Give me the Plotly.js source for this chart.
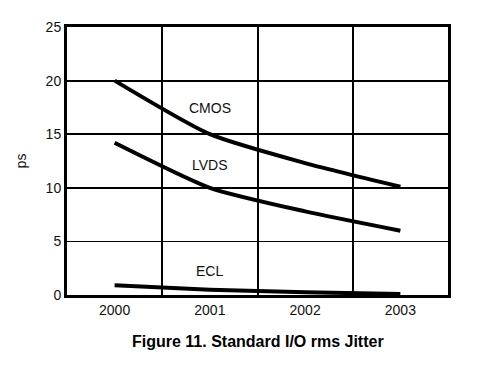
<!DOCTYPE html>
<html><head><meta charset="utf-8">
<script src="https://cdn.plot.ly/plotly-3.0.1.min.js"></script>
<style>html,body{margin:0;padding:0;background:#fff}#chart{width:477px;height:370px}</style>
</head><body><div id="chart"></div>
<script>
const years = ['2000', '2001', '2002', '2003'];
const cmos = [20.0, 15.0, 12.3, 10.1];
const lvds = [14.2, 10.0, 7.8, 6.0];
const ecl = [0.9, 0.5, 0.25, 0.1];
const seriesNames = ['CMOS', 'LVDS', 'ECL'];
const yThickTicks = [0, 10, 15, 20, 25];
const yThinTicks = [5];

const font = {family: 'Liberation Sans, Arial, sans-serif', size: 14, color: '#111'};
const lineStyle = {color: '#000', width: 4, shape: 'spline', smoothing: 0.6};

const traces = [cmos, lvds, ecl].map((vals, i) => ({
  x: years, y: vals, type: 'scatter', mode: 'lines', name: seriesNames[i],
  line: lineStyle, hoverinfo: 'skip', cliponaxis: false,
  yaxis: i === 2 ? 'y2' : 'y'
}));

const labelPos = [17.4, 12.1, 2.25];
const annotations = seriesNames.map((n, i) => ({
  x: 1, y: labelPos[i], xref: 'x', yref: 'y', text: n, showarrow: false,
  font: {family: font.family, size: 14, color: '#111'}
}));
annotations.push({
  x: 0.5, y: -0.172, xref: 'paper', yref: 'paper', yanchor: 'middle',
  text: '<b>Figure 11. Standard I/O rms Jitter</b>', showarrow: false,
  font: {family: font.family, size: 16, color: '#000'}
});

const layout = {
  width: 477, height: 370,
  margin: {l: 67, r: 29, t: 27, b: 75},
  paper_bgcolor: '#fff', plot_bgcolor: '#fff',
  showlegend: false, font: font,
  xaxis: {
    type: 'category', range: [-0.5, 3.5], tickson: 'boundaries',
    showgrid: true, gridcolor: '#000', gridwidth: 2,
    showline: true, linecolor: '#000', linewidth: 3, mirror: true,
    ticks: '', ticklen: 0, zeroline: false, tickfont: font, fixedrange: true
  },
  yaxis: {
    range: [0, 25], tickmode: 'array', tickvals: yThickTicks,
    showgrid: true, gridcolor: '#000', gridwidth: 2,
    minor: {tickmode: 'array', tickvals: yThinTicks, showgrid: true, gridcolor: '#000', gridwidth: 1, ticks: ''},
    showline: true, linecolor: '#000', linewidth: 3, mirror: true,
    ticks: '', zeroline: false, tickfont: font, fixedrange: true,
    title: {text: 'ps', font: {family: font.family, size: 14, color: '#111'}, standoff: 16}
  },
  yaxis2: {
    overlaying: 'y', side: 'left', range: [0, 25], tickmode: 'array', tickvals: yThinTicks,
    showgrid: false, showticklabels: true, tickfont: font,
    showline: true, linecolor: '#000', linewidth: 3,
    ticks: '', zeroline: false, fixedrange: true
  },
  annotations: annotations
};

Plotly.newPlot('chart', traces, layout, {staticPlot: true, displayModeBar: false});
</script></body></html>
